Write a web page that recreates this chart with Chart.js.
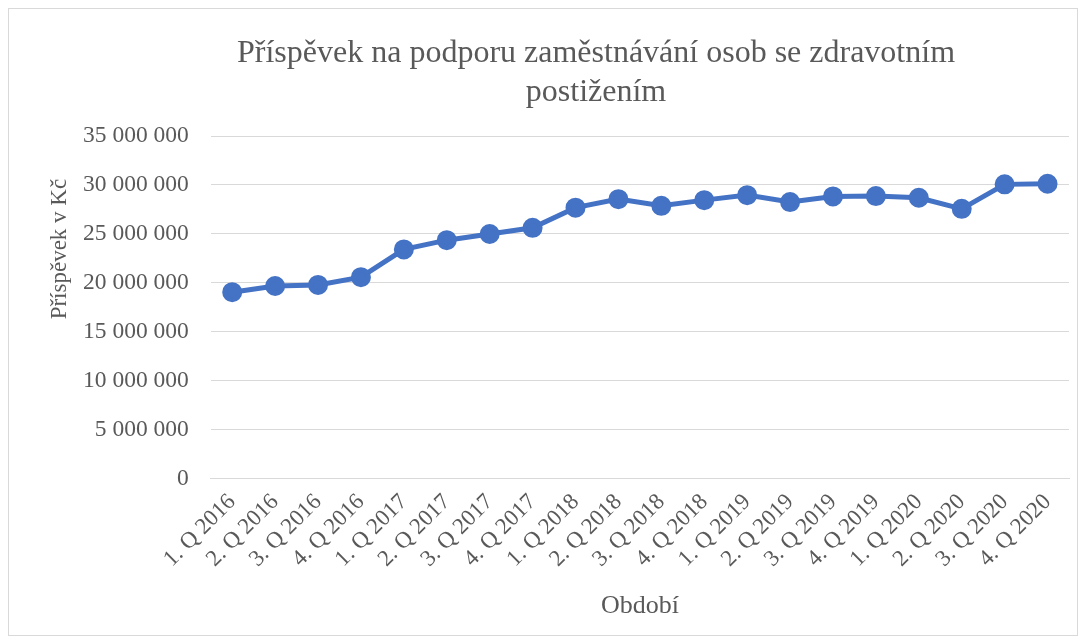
<!DOCTYPE html>
<html>
<head>
<meta charset="utf-8">
<script src="https://cdn.jsdelivr.net/npm/chart.js@4.4.0/dist/chart.umd.min.js"></script>
<style>
  html, body { margin: 0; padding: 0; background: #fff; }
  .frame { position: absolute; left: 8px; top: 8px; width: 1068px; height: 626px; border: 1px solid #d9d9d9; }
  .wrap { position: absolute; left: 0; top: 0; width: 1084px; height: 643px; }
</style>
</head>
<body>
<div class="frame"></div>
<div class="wrap"><canvas id="chart"></canvas></div>
<script>
// Quarterly periods 2016–2020
const periods = [
  '1. Q 2016', '2. Q 2016', '3. Q 2016', '4. Q 2016',
  '1. Q 2017', '2. Q 2017', '3. Q 2017', '4. Q 2017',
  '1. Q 2018', '2. Q 2018', '3. Q 2018', '4. Q 2018',
  '1. Q 2019', '2. Q 2019', '3. Q 2019', '4. Q 2019',
  '1. Q 2020', '2. Q 2020', '3. Q 2020', '4. Q 2020'
];

// Contribution in CZK
const contribution = [
  19050000, 19680000, 19790000, 20580000,
  23420000, 24360000, 24990000, 25620000,
  27680000, 28550000, 27870000, 28450000,
  28960000, 28250000, 28830000, 28860000,
  28690000, 27560000, 30060000, 30120000
];

const yMin = 0;
const yMax = 35000000;
const yStep = 5000000;

const serif = "'Liberation Serif', 'Times New Roman', serif";
const grey = '#595959';
const chartTitle = ['Příspěvek na podporu zaměstnávání osob se zdravotním', 'postižením'];
const yTitle = 'Příspěvek v Kč';

const fmt = (v) => String(v).replace(/\B(?=(\d{3})+(?!\d))/g, ' ');

// Excel places the chart title and the y axis title off-centre,
// so both are drawn here instead of by the built-in title options
const titlesPlugin = {
  id: 'titles',
  afterDraw(chart) {
    const { ctx, chartArea } = chart;
    ctx.save();
    ctx.fillStyle = grey;
    ctx.textAlign = 'center';
    ctx.textBaseline = 'middle';
    ctx.font = `32px ${serif}`;
    chartTitle.forEach((line, i) => ctx.fillText(line, 596, 54 + i * 38.5));
    ctx.translate(60, chartArea.top + chartArea.height * 0.33);
    ctx.rotate(-Math.PI / 2);
    ctx.font = `23px ${serif}`;
    ctx.fillText(yTitle, 0, 0);
    ctx.restore();
  }
};

new Chart(document.getElementById('chart'), {
  type: 'line',
  data: {
    labels: periods,
    datasets: [{
      data: contribution,
      borderColor: '#4472C4',
      backgroundColor: '#4472C4',
      pointBackgroundColor: '#4472C4',
      pointBorderColor: '#4472C4',
      borderWidth: 5,
      pointRadius: 7.5,
      pointHoverRadius: 7.5,
      tension: 0,
      fill: false,
    }]
  },
  plugins: [titlesPlugin],
  options: {
    responsive: true,
    maintainAspectRatio: false,
    animation: false,
    layout: { padding: { left: 61, right: 15, top: 136, bottom: 21 } },
    plugins: {
      legend: { display: false },
      tooltip: { enabled: false },
      title: { display: false }
    },
    scales: {
      x: {
        offset: true,
        grid: { display: false },
        border: { display: true, color: '#d9d9d9', width: 1 },
        ticks: {
          color: grey,
          font: { family: serif, size: 23 },
          minRotation: 45,
          maxRotation: 45,
          autoSkip: false,
          padding: 2
        },
        title: {
          display: true,
          text: 'Období',
          color: grey,
          font: { family: serif, size: 26 },
          padding: { top: 16, bottom: 0 }
        }
      },
      y: {
        min: yMin,
        max: yMax,
        grid: { color: '#d9d9d9', lineWidth: 1, drawTicks: false },
        border: { display: false },
        ticks: {
          stepSize: yStep,
          color: grey,
          font: { family: serif, size: 23.5 },
          padding: 22,
          callback: (v) => fmt(v)
        }
      }
    }
  }
});
</script>
</body>
</html>
